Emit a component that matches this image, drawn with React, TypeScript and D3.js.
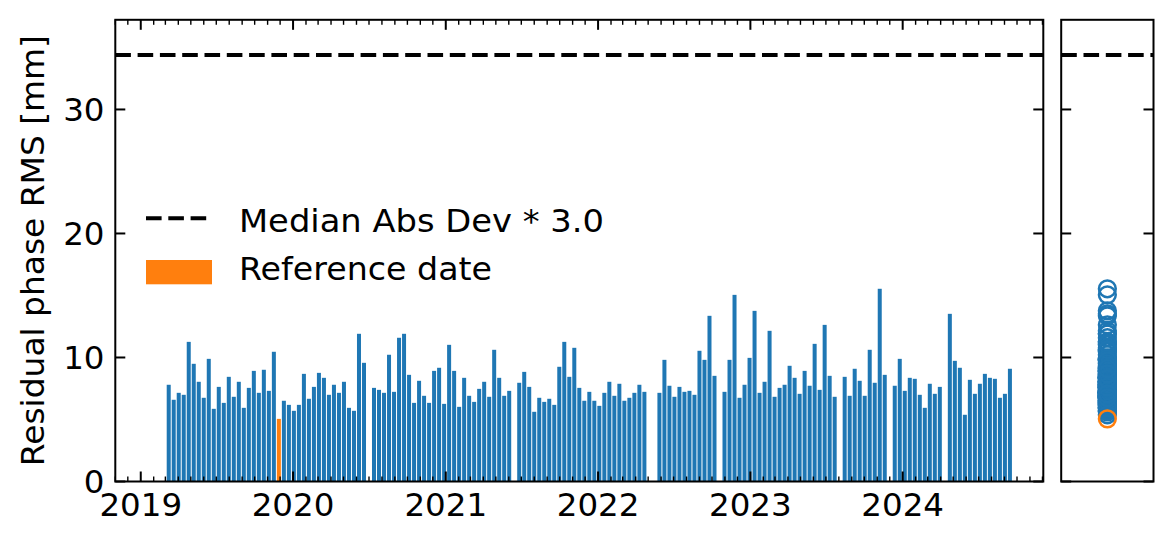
import React from "react";
import * as d3 from "d3";

const dates = [
  "2019-03-09","2019-03-21","2019-04-02","2019-04-14","2019-04-26","2019-05-08","2019-05-20","2019-06-01","2019-06-13","2019-06-25",
  "2019-07-07","2019-07-19","2019-07-31","2019-08-12","2019-08-24","2019-09-05","2019-09-17","2019-09-29","2019-10-11","2019-10-23",
  "2019-11-04","2019-11-16","2019-11-28","2019-12-10","2019-12-22",
  "2020-01-03","2020-01-15","2020-01-27","2020-02-08","2020-02-20","2020-03-03","2020-03-15","2020-03-27","2020-04-08","2020-04-20",
  "2020-05-02","2020-05-14","2020-05-26","2020-06-07","2020-06-19","2020-07-13","2020-07-25","2020-08-06","2020-08-18","2020-08-30",
  "2020-09-11","2020-09-23","2020-10-05","2020-10-17","2020-10-29","2020-11-10","2020-11-22","2020-12-04","2020-12-16","2020-12-28",
  "2021-01-09","2021-01-21","2021-02-02","2021-02-14","2021-02-26","2021-03-10","2021-03-22","2021-04-03","2021-04-15","2021-04-27",
  "2021-05-09","2021-05-21","2021-06-02","2021-06-26","2021-07-08","2021-07-20","2021-08-01","2021-08-13","2021-08-25","2021-09-06",
  "2021-09-18","2021-09-30","2021-10-12","2021-10-24","2021-11-05","2021-11-17","2021-11-29","2021-12-11","2021-12-23",
  "2022-01-04","2022-01-16","2022-01-28","2022-02-09","2022-02-21","2022-03-05","2022-03-17","2022-03-29","2022-04-10","2022-04-22",
  "2022-05-28","2022-06-09","2022-06-21","2022-07-03","2022-07-15","2022-07-27","2022-08-08","2022-08-20","2022-09-01","2022-09-13",
  "2022-09-25","2022-10-07","2022-10-31","2022-11-12","2022-11-24","2022-12-06","2022-12-18","2022-12-30",
  "2023-01-11","2023-01-23","2023-02-04","2023-02-16","2023-02-28","2023-03-12","2023-03-24","2023-04-05","2023-04-17","2023-04-29",
  "2023-05-11","2023-05-23","2023-06-04","2023-06-16","2023-06-28","2023-07-10","2023-07-22","2023-08-15","2023-08-27","2023-09-08",
  "2023-09-20","2023-10-02","2023-10-14","2023-10-26","2023-11-07","2023-11-19","2023-12-13","2023-12-25",
  "2024-01-06","2024-01-18","2024-01-30","2024-02-11","2024-02-23","2024-03-06","2024-03-18","2024-03-30","2024-04-23","2024-05-05",
  "2024-05-17","2024-05-29","2024-06-10","2024-06-22","2024-07-04","2024-07-16","2024-07-28","2024-08-09","2024-08-21","2024-09-02",
  "2024-09-14",
];

const values = [
  7.80, 6.59, 7.15, 6.99, 11.26, 9.49, 8.04, 6.75, 9.89, 5.86,
  7.63, 6.34, 8.44, 6.83, 8.04, 5.94, 7.55, 8.92, 7.15, 9.01,
  7.31, 10.46, 5.05, 6.51, 6.18,
  5.70, 6.18, 8.68, 6.67, 7.63, 8.76, 8.36, 6.99, 7.80, 7.15,
  8.04, 5.94, 5.70, 11.91, 9.57, 7.55, 7.39, 7.15, 10.22, 7.23,
  11.59, 11.91, 8.60, 6.34, 8.12, 6.91, 6.34, 8.92, 9.17, 6.26,
  11.02, 8.92, 6.02, 8.36, 6.91, 6.42, 7.47, 8.04, 6.83, 10.62,
  8.36, 6.91, 7.31, 7.96, 8.84, 7.63, 5.62, 6.75, 6.42, 6.67,
  6.18, 9.25, 11.26, 8.44, 10.78, 7.55, 6.51, 7.23, 6.51,
  6.10, 7.15, 8.04, 6.91, 7.88, 6.51, 6.75, 7.15, 7.80, 7.23,
  7.15, 9.81, 7.72, 6.83, 7.63, 7.23, 7.31, 6.99, 10.54, 9.81,
  13.36, 8.52, 7.23, 9.81, 15.05, 6.75, 7.80, 9.97,
  13.76, 7.15, 8.04, 12.15, 6.83, 7.55, 7.80, 9.33, 8.36, 7.07,
  8.92, 7.72, 11.10, 7.39, 12.63, 8.52, 6.83, 8.44, 6.91, 9.09,
  8.12, 6.91, 10.62, 7.96, 15.54, 8.60, 7.72, 9.89,
  7.31, 8.36, 8.28, 6.99, 5.94, 7.88, 7.07, 7.63, 13.52, 9.73,
  9.17, 5.38, 8.20, 7.07, 7.88, 8.68, 8.36, 8.28, 6.75, 7.07,
  9.09,
];

const referenceDate = "2019-11-28";
const thresholdValue = 34.4;
const yTicks = [0, 10, 20, 30];
const yLabel = "Residual phase RMS [mm]";
const legendLabels = ["Median Abs Dev * 3.0", "Reference date"];

const BLUE = "#1f77b4";
const ORANGE = "#ff7f0e";
const FONT = "DejaVu Sans, sans-serif";

export default function App() {
  const W = 1175, H = 545;
  const M = { left: 115.3, right: 1043.3, top: 19.8, bottom: 481.5 };
  const R = { left: 1061.2, right: 1153.5 };
  const parse = d3.utcParse("%Y-%m-%d");
  const x = d3.scaleUtc()
    .domain([parse("2018-11-01")!, parse("2024-12-03")!])
    .range([M.left, M.right]);
  const y = d3.scaleLinear().domain([0, 37.23]).range([M.bottom, M.top]);

  const barDays = 9.6;
  const data = dates.map((d, i) => ({ date: parse(d)!, value: values[i], ref: d === referenceDate }));
  const barW = (t: Date) => x(new Date(t.getTime() + barDays * 864e5)) - x(t);

  const allMonths = x.ticks(d3.utcMonth.every(1)!);
  const minorTicks = allMonths.filter((d) => d.getUTCMonth() !== 0);
  const majorTicks = x.ticks(d3.utcYear.every(1)!);

  const cx = (R.left + R.right) / 2;
  const majorLen = 10, minorLen = 5;

  return (
    <svg width={W} height={H} style={{ position: "absolute", left: 0, top: 0, background: "#fff" }}>
      <rect x={0} y={0} width={W} height={H} fill="#fff" />
      {data.map((d, i) => {
        const w = barW(d.date);
        return (
          <rect
            key={i}
            x={x(d.date) - w / 2}
            y={y(d.value)}
            width={w}
            height={y(0) - y(d.value)}
            fill={d.ref ? ORANGE : BLUE}
          />
        );
      })}
      <line x1={M.left} x2={M.right} y1={y(thresholdValue)} y2={y(thresholdValue)}
        stroke="#000" strokeWidth={4} strokeDasharray="15.6 6.7" />
      <line x1={R.left} x2={R.right} y1={y(thresholdValue)} y2={y(thresholdValue)}
        stroke="#000" strokeWidth={4} strokeDasharray="15.6 6.7" />

      {data.filter((d) => !d.ref).map((d, i) => (
        <circle key={"c" + i} cx={cx} cy={y(d.value)} r={8.4} fill="none" stroke={BLUE} strokeWidth={2.5} />
      ))}
      {data.filter((d) => d.ref).map((d, i) => (
        <circle key={"r" + i} cx={cx} cy={y(d.value)} r={8.4} fill="none" stroke={ORANGE} strokeWidth={2.5} />
      ))}

      {minorTicks.map((t, i) => (
        <g key={"mn" + i}>
          <line x1={x(t)} x2={x(t)} y1={M.bottom} y2={M.bottom - minorLen} stroke="#000" strokeWidth={1.4} />
          <line x1={x(t)} x2={x(t)} y1={M.top} y2={M.top + minorLen} stroke="#000" strokeWidth={1.4} />
        </g>
      ))}
      {majorTicks.map((t, i) => (
        <g key={"mj" + i}>
          <line x1={x(t)} x2={x(t)} y1={M.bottom} y2={M.bottom - majorLen} stroke="#000" strokeWidth={2} />
          <line x1={x(t)} x2={x(t)} y1={M.top} y2={M.top + majorLen} stroke="#000" strokeWidth={2} />
          <text x={x(t)} y={516.4} textAnchor="middle" fontFamily={FONT} fontSize={32.5} fill="#000">
            {d3.utcFormat("%Y")(t)}
          </text>
        </g>
      ))}

      {yTicks.map((v, i) => (
        <g key={"y" + i}>
          <line x1={M.left} x2={M.left + majorLen} y1={y(v)} y2={y(v)} stroke="#000" strokeWidth={2} />
          <line x1={M.right} x2={M.right - majorLen} y1={y(v)} y2={y(v)} stroke="#000" strokeWidth={2} />
          <line x1={R.left} x2={R.left + majorLen} y1={y(v)} y2={y(v)} stroke="#000" strokeWidth={2} />
          <line x1={R.right} x2={R.right - majorLen} y1={y(v)} y2={y(v)} stroke="#000" strokeWidth={2} />
          <text x={104.5} y={y(v) + 11.6} textAnchor="end" fontFamily={FONT} fontSize={32.5} fill="#000">
            {v}
          </text>
        </g>
      ))}

      <rect x={M.left} y={M.top} width={M.right - M.left} height={M.bottom - M.top} fill="none" stroke="#000" strokeWidth={2} />
      <rect x={R.left} y={M.top} width={R.right - R.left} height={M.bottom - M.top} fill="none" stroke="#000" strokeWidth={2} />

      <text transform={`translate(44, ${(M.top + M.bottom) / 2}) rotate(-90)`} textAnchor="middle"
        fontFamily={FONT} fontSize={32} fill="#000" textLength={431} lengthAdjust="spacingAndGlyphs">
        {yLabel}
      </text>

      <line x1={146} x2={212} y1={218.3} y2={218.3} stroke="#000" strokeWidth={4} strokeDasharray="15.6 6.7" />
      <text x={239} y={232.3} fontFamily={FONT} fontSize={32} fill="#000" textLength={365} lengthAdjust="spacingAndGlyphs">
        {legendLabels[0]}
      </text>
      <rect x={146} y={260} width={66} height={24.3} fill={ORANGE} />
      <text x={239} y={279.5} fontFamily={FONT} fontSize={32} fill="#000" textLength={253} lengthAdjust="spacingAndGlyphs">
        {legendLabels[1]}
      </text>
    </svg>
  );
}
